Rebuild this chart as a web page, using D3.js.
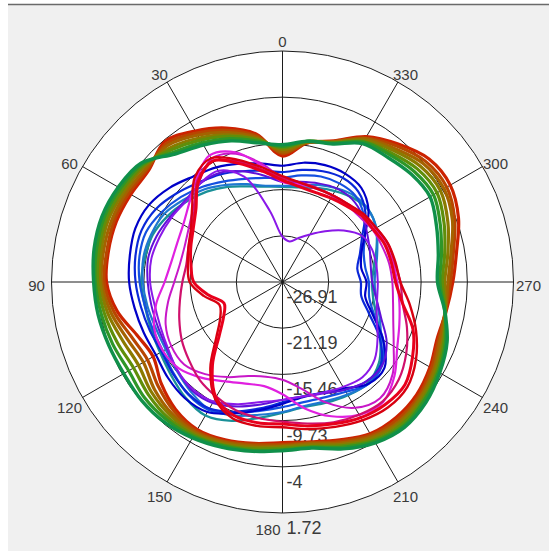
<!DOCTYPE html>
<html>
<head>
<meta charset="utf-8">
<script src="https://cdn.jsdelivr.net/npm/d3@7"></script>
<style>
  html, body { margin: 0; padding: 0; background: #fff; }
  svg { display: block; }
</style>
</head>
<body>
<script>
// Polar pattern: gain (dB) against azimuth (degrees, counter-clockwise from top)

const angles = [0,10,20,30,40,50,60,70,80,90,100,110,120,130,140,150,160,170,
                180,190,200,210,220,230,240,250,260,270,280,290,300,310,320,330,340,350];

const radialTicks = [-26.91, -21.19, -15.46, -9.73, -4, 1.72];
const angleTicks = [0,30,60,90,120,150,180,210,240,270,300,330];

// Outer group of traces (red → green)
const outer0 = [-11.3,-8.3,-6.6,-5.3,-4.2,-5.3,-5.2,-5.0,-5.0,-5.1,-6.1,-7.7,-8.4,-7.3,-6.3,-5.8,-6.1,-6.6,
                -7.0,-6.8,-6.1,-5.2,-5.0,-5.2,-5.8,-6.5,-6.3,-5.8,-5.0,-3.7,-2.9,-3.2,-4.6,-6.1,-8.3,-9.4];
const outer1 = [-11.0,-8.5,-6.9,-5.6,-4.5,-5.1,-4.9,-4.7,-4.8,-4.8,-5.7,-7.0,-7.6,-6.8,-6.0,-5.6,-5.9,-6.5,
                -6.8,-6.7,-5.9,-5.0,-4.7,-4.9,-5.6,-6.3,-6.4,-6.1,-5.4,-4.2,-3.4,-3.7,-4.9,-6.3,-8.4,-9.4];
const outer2 = [-10.8,-8.7,-7.2,-5.9,-4.8,-4.9,-4.6,-4.4,-4.4,-4.5,-5.3,-6.4,-7.0,-6.2,-5.6,-5.4,-5.8,-6.3,
                -6.6,-6.6,-5.7,-4.8,-4.4,-4.7,-5.3,-6.1,-6.4,-6.4,-5.7,-4.5,-3.8,-4.1,-5.3,-6.4,-8.4,-9.3];
const outer3 = [-10.5,-8.9,-7.5,-6.3,-5.2,-4.6,-4.3,-4.0,-4.1,-4.3,-4.9,-5.8,-6.3,-5.7,-5.3,-5.2,-5.6,-6.1,
                -6.5,-6.4,-5.5,-4.6,-4.2,-4.5,-5.1,-5.8,-6.4,-6.8,-6.1,-5.1,-4.3,-4.6,-5.6,-6.6,-8.5,-9.3];
const outer4 = [-10.3,-9.0,-7.7,-6.6,-5.5,-4.4,-4.0,-3.7,-3.8,-4.0,-4.5,-5.1,-5.6,-5.2,-4.9,-5.0,-5.4,-5.9,
                -6.3,-6.2,-5.3,-4.3,-3.9,-4.2,-4.8,-5.6,-6.4,-7.1,-6.5,-5.6,-4.8,-5.1,-6.0,-6.8,-8.6,-9.2];
const outer5 = [-10.1,-9.2,-8.0,-7.0,-5.9,-4.2,-3.7,-3.4,-3.5,-3.7,-4.1,-4.5,-4.9,-4.6,-4.6,-4.8,-5.3,-5.7,
                -6.1,-6.1,-5.1,-4.1,-3.6,-4.0,-4.6,-5.4,-6.5,-7.4,-6.9,-6.1,-5.3,-5.6,-6.3,-6.9,-8.6,-9.2];
const outer6 = [-9.9,-9.4,-8.3,-7.3,-6.2,-4.0,-3.4,-3.1,-3.2,-3.5,-3.7,-4.0,-4.2,-4.1,-4.2,-4.6,-5.1,-5.6,
                -6.0,-6.0,-4.9,-3.9,-3.4,-3.7,-4.4,-5.2,-6.5,-7.7,-7.3,-6.6,-5.8,-6.1,-6.7,-7.1,-8.7,-9.2];

// Inner group of traces (blue → violet → magenta → red)
const blue1 = [-12.5,-12.0,-11.3,-10.5,-9.8,-8.7,-7.8,-7.5,-7.7,-7.9,-8.3,-8.6,-8.8,-8.4,-8.1,-8.3,-9.6,-10.8,
               -11.8,-12.4,-12.3,-11.7,-10.4,-10.4,-12.5,-15.0,-16.5,-16.5,-17.0,-16.5,-15.1,-13.0,-11.7,-11.4,-11.5,-11.9];
const blue2 = [-13.3,-12.9,-12.3,-11.5,-10.8,-9.8,-8.8,-8.3,-8.4,-8.7,-9.1,-9.4,-9.6,-9.2,-8.8,-8.8,-9.8,-11.0,
               -12.0,-12.5,-12.3,-11.5,-10.8,-11.0,-13.0,-15.5,-17.0,-17.2,-17.5,-16.7,-15.5,-13.5,-12.3,-12.0,-12.3,-12.8];
const blue3 = [-14.0,-13.8,-13.3,-12.5,-11.5,-10.5,-9.6,-8.9,-8.9,-9.2,-9.6,-9.8,-9.8,-9.3,-8.7,-8.6,-9.6,-10.7,
               -11.4,-11.8,-11.7,-11.2,-10.4,-10.8,-12.5,-14.8,-16.0,-16.2,-16.5,-16.2,-15.1,-13.8,-12.9,-12.8,-13.0,-13.5];
const blue4 = [-15.0,-14.8,-14.0,-13.0,-11.9,-11.0,-10.0,-9.6,-9.4,-9.6,-9.9,-10.2,-10.2,-9.8,-9.2,-8.7,-9.3,-10.2,
               -10.8,-11.3,-11.2,-10.8,-10.4,-11.0,-12.8,-14.1,-15.1,-15.5,-15.1,-14.4,-13.5,-13.0,-13.0,-13.5,-14.1,-14.8];
const teal1 = [-15.1,-14.9,-14.3,-13.3,-12.3,-11.4,-10.5,-9.8,-9.6,-9.4,-9.6,-9.6,-9.4,-8.9,-8.2,-7.8,-8.6,-9.8,
               -10.7,-11.2,-11.0,-10.7,-10.5,-11.3,-12.9,-14.5,-15.5,-15.8,-15.4,-14.5,-13.5,-13.0,-13.3,-13.9,-14.5,-15.0];
const violet1 = [-21.3,-18.0,-13.0,-11.0,-11.0,-11.3,-11.0,-10.7,-10.4,-10.5,-10.8,-10.8,-10.5,-9.9,-9.6,-9.8,-10.8,-11.8,
                 -12.3,-12.5,-12.3,-11.9,-11.5,-12.0,-13.3,-14.5,-15.0,-15.1,-15.1,-15.1,-15.5,-17.0,-18.7,-20.1,-21.1,-21.8];
const violet2 = [-14.5,-13.5,-12.3,-11.3,-11.0,-11.2,-10.8,-10.3,-10.0,-10.2,-10.4,-10.5,-10.4,-9.9,-9.4,-9.6,-10.5,-11.5,
                 -12.3,-12.5,-12.2,-11.5,-10.8,-10.8,-12.0,-13.9,-15.1,-15.8,-15.8,-15.4,-14.8,-14.0,-13.5,-13.5,-13.9,-14.3];
const magenta1 = [-14.5,-12.3,-9.8,-8.8,-10.3,-11.8,-12.7,-13.0,-12.9,-12.3,-11.0,-10.0,-9.8,-10.2,-11.4,-12.7,-13.5,-13.8,
                  -13.0,-11.0,-9.2,-7.9,-7.5,-8.8,-10.5,-11.5,-12.2,-12.7,-13.0,-13.3,-13.6,-14.0,-14.3,-14.5,-14.6,-14.6];
const magenta2 = [-14.0,-12.0,-10.0,-9.3,-10.8,-12.5,-13.5,-14.0,-14.0,-13.5,-12.5,-11.5,-11.0,-11.0,-12.0,-13.3,-14.5,-15.0,
                  -14.8,-13.5,-11.0,-8.9,-8.1,-9.1,-11.0,-12.3,-13.0,-13.3,-13.5,-13.8,-14.0,-14.4,-14.5,-14.6,-14.5,-14.4];
const crimson1 = [-14.0,-12.8,-11.0,-9.6,-10.5,-12.7,-13.9,-14.5,-14.8,-14.5,-14.0,-13.3,-12.5,-11.8,-11.0,-10.5,-10.0,-9.8,
                  -9.6,-9.1,-8.4,-7.9,-7.6,-8.1,-9.2,-10.5,-11.8,-12.3,-12.8,-13.0,-13.5,-13.9,-14.3,-14.5,-14.5,-14.4];
const red1 = [-14.3,-13.0,-11.3,-9.6,-10.7,-12.9,-14.1,-14.8,-15.4,-15.9,-17.6,-19.2,-18.5,-16.7,-13.4,-10.4,-9.3,-9.2,
              -9.3,-8.8,-8.2,-7.5,-7.1,-7.1,-8.3,-9.7,-11.8,-12.9,-13.2,-13.4,-13.9,-14.1,-14.6,-14.9,-15.1,-14.9];
const red2 = [-13.8,-12.5,-10.8,-9.2,-10.0,-12.3,-13.8,-14.5,-15.0,-15.4,-17.0,-18.6,-18.0,-16.2,-13.0,-10.2,-8.9,-8.8,
              -8.9,-8.4,-7.8,-7.1,-6.6,-6.7,-7.8,-9.3,-10.9,-12.3,-12.7,-13.0,-13.5,-13.8,-14.3,-14.5,-14.6,-14.4];

// Drawing order and stroke styles
const traces = [
  { values: outer0, color: "#cc2200", width: 3.2 },
  { values: outer1, color: "#b84600", width: 3.2 },
  { values: outer2, color: "#a46200", width: 3.2 },
  { values: outer3, color: "#8a7a00", width: 3.2 },
  { values: outer4, color: "#5f8e0a", width: 3.2 },
  { values: outer5, color: "#2e9628", width: 3.2 },
  { values: outer6, color: "#10904a", width: 3.4 },
  { values: teal1,   color: "#1a9098", width: 2.4 },
  { values: blue4,   color: "#1e78d0", width: 2.2 },
  { values: blue3,   color: "#1450e0", width: 2.2 },
  { values: blue2,   color: "#0a28d8", width: 2.2 },
  { values: blue1,   color: "#0000c8", width: 2.2 },
  { values: violet2, color: "#6010d8", width: 2.0 },
  { values: violet1, color: "#8a18e8", width: 2.0 },
  { values: magenta2, color: "#c818c8", width: 2.0 },
  { values: magenta1, color: "#e020e0", width: 2.2 },
  { values: crimson1, color: "#d0106c", width: 2.2 },
  { values: red2,     color: "#d80010", width: 2.4 },
  { values: red1,     color: "#e8001c", width: 3.0 }
];

const W = 549, H = 551;
const cx = 282.5, cy = 282, R = 231;

const svg = d3.select("body").append("svg")
  .attr("width", W).attr("height", H)
  .attr("font-family", "'Liberation Sans', Arial, sans-serif");

// window background
svg.append("rect").attr("width", W).attr("height", H).attr("fill", "#ffffff");
svg.append("rect").attr("x", 8).attr("y", 5).attr("width", W - 8).attr("height", H - 5).attr("fill", "#f0f0f0");
svg.append("line").attr("x1", 8).attr("x2", W).attr("y1", 4.5).attr("y2", 4.5)
  .attr("stroke", "#6a6a6a").attr("stroke-width", 1.5);

const rScale = d3.scaleLinear()
  .domain([radialTicks[0], radialTicks[radialTicks.length - 1]])
  .range([0, R]);

const g = svg.append("g").attr("transform", `translate(${cx},${cy})`);

// plot disk
g.append("circle").attr("r", R).attr("fill", "#ffffff");

// rings
g.selectAll("circle.ring").data(radialTicks.slice(1)).join("circle")
  .attr("class", "ring")
  .attr("r", d => rScale(d))
  .attr("fill", "none").attr("stroke", "#1c1c1c").attr("stroke-width", 1);

// spokes (angles run counter-clockwise from the top)
const toXY = (deg, r) => {
  const a = deg * Math.PI / 180;
  return [-r * Math.sin(a), -r * Math.cos(a)];
};
g.selectAll("line.spoke").data(angleTicks).join("line")
  .attr("class", "spoke")
  .attr("x1", 0).attr("y1", 0)
  .attr("x2", d => toXY(d, R)[0]).attr("y2", d => toXY(d, R)[1])
  .attr("stroke", "#1c1c1c").attr("stroke-width", 1);

// angle labels
g.selectAll("text.ang").data(angleTicks).join("text")
  .attr("class", "ang")
  .attr("x", d => {
    const [x] = toXY(d, R);
    const a = d * Math.PI / 180;
    if (d === 180) return x - 2;
    return x - 15 * Math.sin(a);
  })
  .attr("y", d => {
    const [, y] = toXY(d, R);
    const a = d * Math.PI / 180;
    return y + 3.5 - 13 * Math.cos(a);
  })
  .attr("text-anchor", d => d === 180 ? "end" : "middle")
  .attr("dominant-baseline", "central")
  .attr("font-size", 15)
  .attr("fill", "#3a3a3a")
  .text(d => d);

// radial labels
g.selectAll("text.rad").data(radialTicks).join("text")
  .attr("class", "rad")
  .attr("x", 4)
  .attr("y", d => rScale(d) + 21)
  .attr("font-size", 18)
  .attr("fill", "#3a3a3a")
  .text(d => d);

// traces
const line = d3.lineRadial()
  .angle((d, i) => -angles[i] * Math.PI / 180)
  .radius(d => rScale(d))
  .curve(d3.curveCatmullRomClosed.alpha(0.5));

g.selectAll("path.trace").data(traces).join("path")
  .attr("class", "trace")
  .attr("d", d => line(d.values))
  .attr("fill", "none")
  .attr("stroke", d => d.color)
  .attr("stroke-width", d => d.width)
  .attr("stroke-linejoin", "round");
</script>
</body>
</html>
